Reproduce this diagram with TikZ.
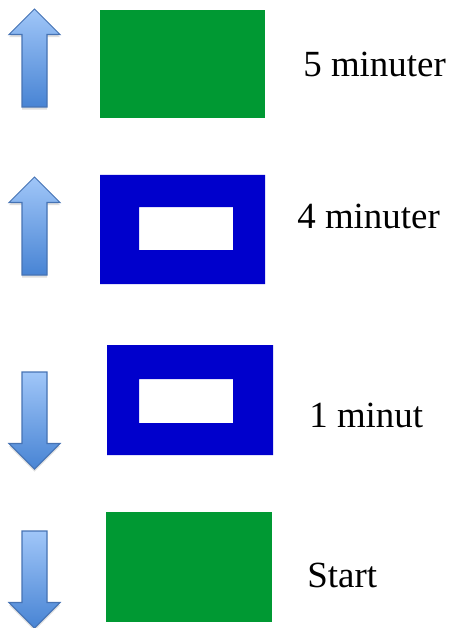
\documentclass[tikz,border=0pt]{standalone}
\usepackage{fontspec}
\setmainfont{Liberation Serif}
\usepackage{xcolor}
\usepackage{tikz}
\usetikzlibrary{shadows}
\definecolor{signgreen}{RGB}{0, 153, 51}
\definecolor{signblue}{RGB}{0, 0, 204}
\definecolor{arrowlight}{RGB}{160, 198, 248}
\definecolor{arrowdark}{RGB}{72, 132, 212}
\definecolor{arrowedge}{RGB}{70, 115, 180}

\begin{document}
\begin{tikzpicture}[x=0.02cm, y=-0.02cm,
    arrowshape/.style={draw=arrowedge, line width=0.6pt, line join=miter,
        top color=arrowlight, bottom color=arrowdark,
        drop shadow={opacity=0.25, shadow xshift=0pt, shadow yshift=-1.5pt}},
    label/.style={anchor=base west, inner sep=0pt, font=\fontsize{21}{25}\selectfont}]
\useasboundingbox (0,0) rectangle (451,628);

% Up arrows
\foreach \ytip in {9,177} {
    \pgfmathsetmacro{\ybase}{\ytip+25.5}
    \pgfmathsetmacro{\ybot}{\ytip+98}
    \path[arrowshape] (34.5,\ytip) -- (60,\ybase) -- (47,\ybase) -- (47,\ybot)
        -- (22,\ybot) -- (22,\ybase) -- (9,\ybase) -- cycle;
}

% Down arrows
\foreach \ytip in {469,628} {
    \pgfmathsetmacro{\ybase}{\ytip-25.5}
    \pgfmathsetmacro{\ytop}{\ytip-97}
    \path[arrowshape] (34.5,\ytip) -- (60,\ybase) -- (47,\ybase) -- (47,\ytop)
        -- (22,\ytop) -- (22,\ybase) -- (9,\ybase) -- cycle;
}

% Signs
\fill[signgreen] (100,10) rectangle (265,118);
\fill[signblue, even odd rule] (100,175) rectangle (265,284)
    (139,207) rectangle (233,250);
\fill[signblue, even odd rule] (107,345) rectangle (273,455)
    (139,379) rectangle (233,423);
\fill[signgreen] (106,512) rectangle (272,622);

% Times
\node[label] (five) at (303,77) {5 minuter};
\node[label] (four) at (297,228) {4 minuter};
\node[label] (one) at (309,427) {1 minut};
\node[label] (start) at (307,587) {Start};
\end{tikzpicture}
\end{document}
